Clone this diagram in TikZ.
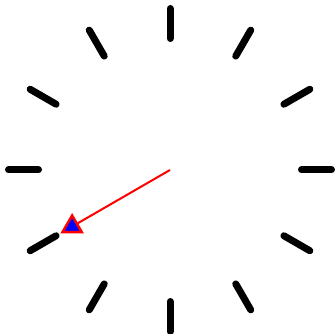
\documentclass[tikz,border=0pt]{standalone}
\usetikzlibrary{shapes.geometric}

\begin{document}
\begin{tikzpicture}[
    x=1pt, y=1pt,
    hourmark/.style={line width=7pt, line cap=round},
    hand/.style={red, line width=2pt},
    tipmark/.style={regular polygon, regular polygon sides=3, draw=red, fill=blue,
        line width=2.5pt, minimum size=22pt, inner sep=0pt}
]
\useasboundingbox (-170,-164) rectangle (164,170);

% centre and hour marks
\coordinate (c) at (0,0);
\foreach \a in {0,30,...,330}
    \draw[hourmark] (\a:131.5) -- (\a:161.5);

% hand with its marker
\node[tipmark] (tip) at (210:113) {};
\draw[hand] (c) -- (tip);

\end{tikzpicture}
\end{document}
